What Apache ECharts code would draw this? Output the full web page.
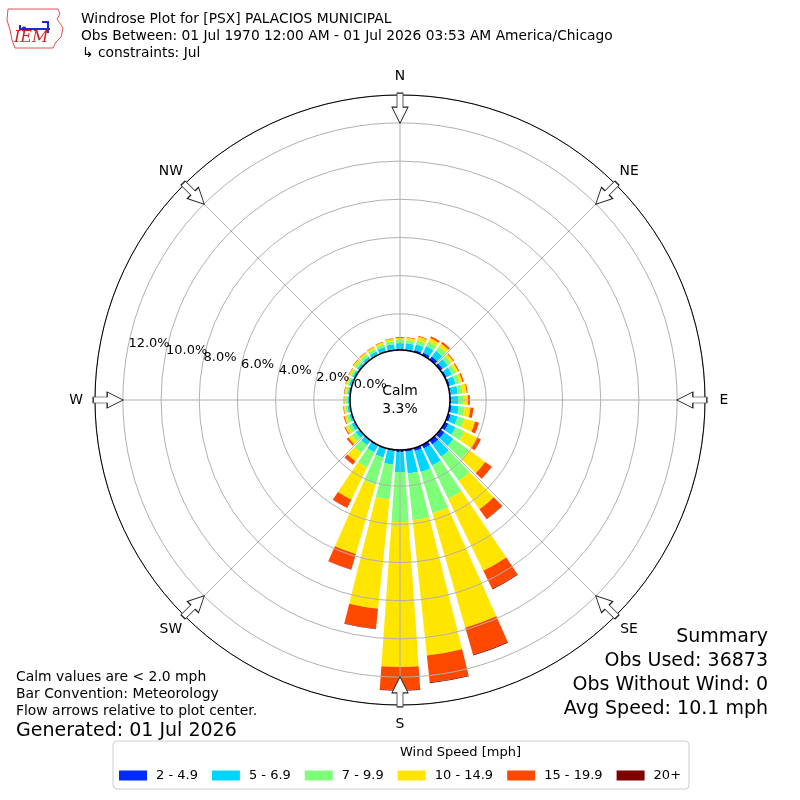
<!DOCTYPE html>
<html><head><meta charset="utf-8">
<script src="https://cdn.jsdelivr.net/npm/echarts@6/dist/echarts.min.js"></script>
<style>html,body{margin:0;padding:0;background:#fff}#c{width:800px;height:800px}</style>
</head><body><div id="c"></div>
<script>
// ---- data ----
const directions = [0,10,20,30,40,50,60,70,80,90,100,110,120,130,140,150,160,170,180,190,200,210,220,230,240,250,260,270,280,290,300,310,320,330,340,350];
const speedBins = ['2 - 4.9','5 - 6.9','7 - 9.9','10 - 14.9','15 - 19.9','20+'];
const spd2to5   = [0.16,0.16,0.21,0.26,0.31,0.26,0.21,0.21,0.16,0.16,0.21,0.26,0.31,0.37,0.37,0.31,0.26,0.21,0.21,0.16,0.16,0.16,0.10,0.10,0.10,0.10,0.10,0.10,0.10,0.10,0.10,0.10,0.10,0.13,0.13,0.16];
const spd5to7   = [0.31,0.31,0.31,0.37,0.37,0.31,0.31,0.31,0.37,0.37,0.37,0.37,0.42,0.58,0.79,1.00,1.15,1.15,1.05,0.73,0.47,0.37,0.31,0.26,0.21,0.16,0.16,0.13,0.13,0.16,0.16,0.16,0.18,0.18,0.24,0.26];
const spd7to10  = [0.16,0.16,0.21,0.26,0.26,0.21,0.21,0.21,0.26,0.26,0.31,0.37,0.52,1.00,1.57,1.94,2.25,2.46,2.62,1.83,1.47,0.89,0.52,0.26,0.21,0.16,0.10,0.10,0.10,0.10,0.10,0.16,0.16,0.16,0.16,0.16];
const spd10to15 = [0.10,0.13,0.21,0.21,0.21,0.16,0.16,0.16,0.21,0.26,0.31,0.58,0.73,1.05,1.83,4.19,6.23,7.12,7.59,5.76,3.77,1.88,0.52,0.21,0.16,0.10,0.10,0.08,0.08,0.08,0.10,0.10,0.10,0.10,0.10,0.13];
const spd15to20 = [0.05,0.03,0.05,0.10,0.10,0.05,0.05,0.08,0.05,0.10,0.16,0.21,0.21,0.42,0.63,1.05,1.47,1.41,1.20,1.05,0.84,0.47,0.21,0.10,0.05,0.05,0.03,0.03,0.03,0.03,0.03,0.03,0.03,0.03,0.03,0.03];
const spd20up   = [0,0,0,0,0,0,0,0,0,0,0,0,0.01,0.01,0.02,0.04,0.05,0.05,0.04,0.03,0.02,0.01,0.01,0,0,0,0,0,0,0,0,0,0,0,0,0];
const ringTicks = [0,2,4,6,8,10,12];
const compassAngles = [0,45,90,135,180,225,270,315];
const compassNames = ['N','NE','E','SE','S','SW','W','NW'];
const calmPct = 3.3;
const titleLines = ['Windrose Plot for [PSX] PALACIOS MUNICIPAL','Obs Between: 01 Jul 1970 12:00 AM - 01 Jul 2026 03:53 AM America/Chicago','\u21b3 constraints: Jul'];
const summaryLines = ['Summary','Obs Used: 36873','Obs Without Wind: 0','Avg Speed: 10.1 mph'];
const noteLines = ['Calm values are < 2.0 mph','Bar Convention: Meteorology','Flow arrows relative to plot center.'];
const generatedText = 'Generated: 01 Jul 2026';

// ---- styling ----
const FONT = 'DejaVu Sans';
const colors = ['#002aff','#00d4ff','#7dff7a','#ffe500','#ff4800','#800000'];
const RMAX = 13.46;
const LABEL_GAP = 19;
const seriesData = [spd2to5, spd5to7, spd7to10, spd10to15, spd15to20, spd20up];

const chart = echarts.init(document.getElementById('c'));

const barSeries = speedBins.map((name, i) => ({
  name, type: 'bar', coordinateSystem: 'polar', polarIndex: 0,
  stack: 'wind', data: seriesData[i], barCategoryGap: '20%',
  itemStyle: {color: colors[i]}, z: 2, animation: false
}));

const arrowPath = 'path://M5,0 L11,0 L11,14 L16,14 L8,30 L0,14 L5,14 Z';

const graphics = [];
titleLines.forEach((t, i) => graphics.push({type:'text', left: i===2 ? 82 : 81, top: 12 + i*17,
  style:{text:t, font:'13.8px "DejaVu Sans"', fill:'#000'}}));
summaryLines.forEach((t, i) => graphics.push({type:'text', right: 32, top: 628 + i*23.7,
  style:{text:t, font:'19px "DejaVu Sans"', fill:'#000', textAlign:'right'}}));
noteLines.forEach((t, i) => graphics.push({type:'text', left: 16, top: 670 + i*17.3,
  style:{text:t, font:'13.9px "DejaVu Sans"', fill:'#000'}}));
graphics.push({type:'text', left: 16, top: 722, style:{text:generatedText, font:'19px "DejaVu Sans"', fill:'#000'}});
graphics.push({type:'text', left: 400, top: 746, style:{text:'Wind Speed [mph]', font:'13px "DejaVu Sans"', fill:'#000', textAlign:'center'}});
// calm circle
graphics.push({type:'circle', shape:{cx:400, cy:400, r:50}, style:{fill:'#fff', stroke:'#000', lineWidth:1.5}, z:100});
graphics.push({type:'text', x:400, y:400, z:101, style:{text:'Calm\n' + calmPct.toFixed(1) + '%', font:'13.9px "DejaVu Sans"', fill:'#000', textAlign:'center', textVerticalAlign:'middle', lineHeight:18}});
// IEM logo (approximation)
graphics.push({type:'polyline', z:5, shape:{points:[[8,9],[58,9],[60,14],[57,19],[63,28],[61,37],[56,42],[53,48],[15,48],[12,40],[10,30],[7,20],[8,9]]}, style:{stroke:'#e05050', fill:'none', lineWidth:1}});
graphics.push({type:'polyline', z:5, shape:{points:[[20,25],[20,29],[50,29]]}, style:{stroke:'#1a2ad0', lineWidth:2, fill:'none'}});
graphics.push({type:'polyline', z:5, shape:{points:[[42,22],[48,22],[48,33]]}, style:{stroke:'#1a2ad0', lineWidth:2, fill:'none'}});
graphics.push({type:'circle', z:5, shape:{cx:24, cy:29, r:2.5}, style:{fill:'#1a2ad0'}});
graphics.push({type:'text', z:5, left:14, top:30, style:{text:'IEM', font:'italic 16px "DejaVu Serif"', fill:'#d02020'}});

chart.setOption({
  animation: false,
  backgroundColor: '#fff',
  polar: [
    {center: [400, 400], radius: [48, 305]},
    {center: [400, 400], radius: [48, 305]}
  ],
  angleAxis: [
    {polarIndex: 0, type: 'category', data: directions, startAngle: 95, clockwise: true, show: false},
    {polarIndex: 1, type: 'value', min: 0, max: 360, interval: 45, startAngle: 90, clockwise: true, z: 11,
     axisLine: {show: true, lineStyle: {color: '#000', width: 1}},
     axisTick: {show: false},
     splitLine: {show: true, lineStyle: {color: '#b0b0b0', width: 1}},
     axisLabel: {show: false}}
  ],
  radiusAxis: [
    {polarIndex: 0, type: 'value', min: 0, max: RMAX, show: false},
    {polarIndex: 1, type: 'value', min: 0, max: RMAX, interval: 2, z: 10,
     axisLine: {show: false}, axisTick: {show: false}, axisLabel: {show: false},
     splitLine: {show: true, lineStyle: {color: '#b0b0b0', width: 1}}}
  ],
  legend: {
    left: 113, top: 741, orient: 'horizontal', padding: [28, 8, 7, 6],
    borderColor: '#cccccc', borderWidth: 1, borderRadius: 4,
    itemWidth: 28, itemHeight: 10, itemGap: 14, icon: 'rect', selectedMode: false,
    textStyle: {fontFamily: FONT, fontSize: 13, color: '#000', padding: [0, 0, 0, 4]},
    data: speedBins
  },
  series: barSeries.concat([
    {type: 'scatter', coordinateSystem: 'polar', polarIndex: 1, z: 150, silent: true,
     symbolSize: 0, itemStyle: {opacity: 1},
     data: ringTicks.map(v => [v, 280.4]),
     label: {show: true, position: [1, 0], align: 'left', verticalAlign: 'bottom',
       fontFamily: FONT, fontSize: 13, color: '#000', formatter: p => p.data[0].toFixed(1) + '%'}},
    {type: 'scatter', coordinateSystem: 'polar', polarIndex: 1, z: 150, silent: true,
     symbolSize: 0, itemStyle: {opacity: 1},
     data: compassAngles.map((a, i) => ({
       value: [RMAX, a], name: compassNames[i],
       label: {offset: [LABEL_GAP * Math.sin(a * Math.PI / 180), -LABEL_GAP * Math.cos(a * Math.PI / 180)]}
     })),
     label: {show: true, position: [0, 0], align: 'center', verticalAlign: 'middle',
       fontFamily: FONT, fontSize: 13.9, color: '#000', formatter: p => p.name}},
    {type: 'scatter', coordinateSystem: 'polar', polarIndex: 1, z: 20, silent: true,
     symbol: arrowPath, symbolSize: [16, 30], symbolKeepAspect: false,
     itemStyle: {color: '#fff', borderColor: '#222', borderWidth: 1, opacity: 1},
     data: compassAngles.map(a => ({value: [12.77, a], symbolRotate: -a}))}
  ]),
  graphic: graphics
});
</script></body></html>
